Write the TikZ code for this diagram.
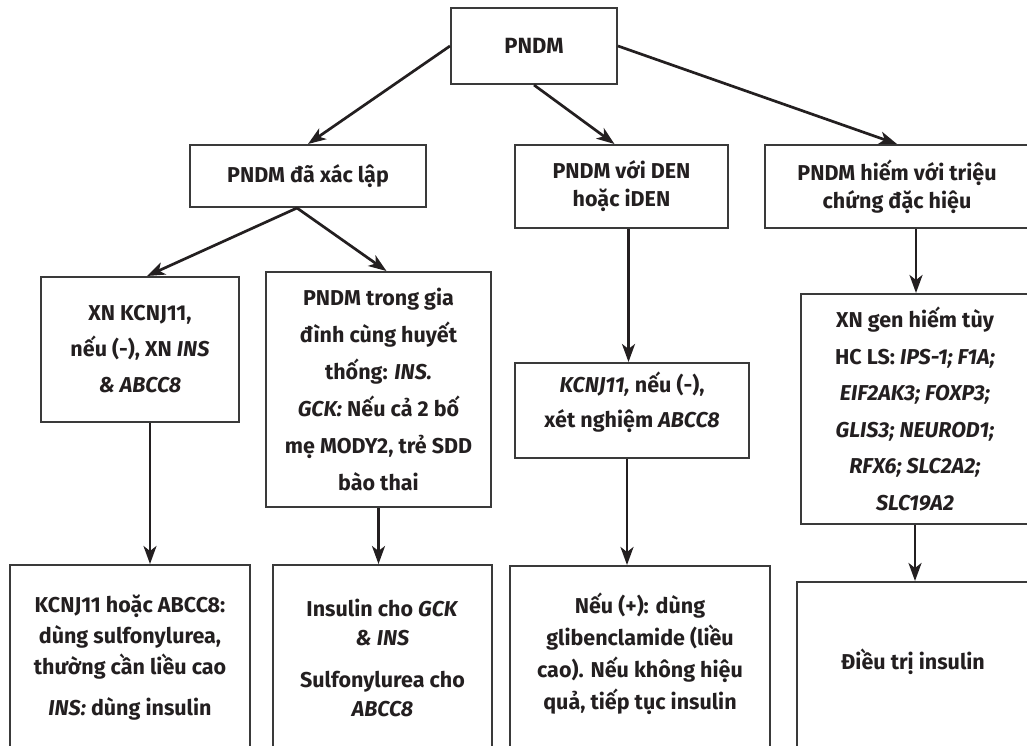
\documentclass[tikz,border=0pt]{standalone}
\usepackage{fontspec}
\setmainfont{Fira Sans}[UprightFont={Fira Sans Bold}, BoldFont={Fira Sans ExtraBold}, ItalicFont={Fira Sans Bold Italic}]
\usetikzlibrary{arrows.meta}
\definecolor{inchiostro}{HTML}{231F20}
\definecolor{bordo}{HTML}{3A3A3A}
\newcommand{\testo}[1]{\fontsize{21.5}{#1}\selectfont}
\tikzstyle{riquadro} = [rectangle, draw=bordo, line width=2pt, align=center, inner sep=0pt, text=inchiostro, font=\testo{28}]
\tikzstyle{freccia} = [draw=inchiostro, line width=2.7pt, -{Stealth[length=18pt,width=13pt,inset=5pt]}]

\begin{document}
\begin{tikzpicture}[x=1pt, y=-1pt]
\useasboundingbox (0,0) rectangle (1027,745);
\clip (0,0) rectangle (1027,745);

\node (pndm) [riquadro, minimum width=166, minimum height=76, font=\fontsize{22}{28}\selectfont] at (534,46) {PNDM};

\node (xaclap) [riquadro, minimum width=236, minimum height=62] at (308,176) {PNDM đã xác lập};
\node (den) [riquadro, minimum width=213, minimum height=83] at (621.5,186.5) {PNDM với DEN\\hoặc iDEN};
\node (hiem) [riquadro, minimum width=264, minimum height=83] at (897,186.5) {PNDM hiếm với triệu\\chứng đặc hiệu};

\node (xnk) [riquadro, minimum width=198, minimum height=145, font=\testo{36}] at (140,349.5) {XN KCNJ11,\\nếu (-), XN \textit{INS}\\\textit{\& ABCC8}};
\node (giadinh) [riquadro, minimum width=225, minimum height=235, font=\testo{37}] at (378.5,389.5) {PNDM trong gia\\đình cùng huyết\\thống: \textit{INS.}\\\textit{GCK:} Nếu cả 2 bố\\mẹ MODY2, trẻ SDD\\bào thai};
\node (kcnj) [riquadro, minimum width=234, minimum height=95, text depth=22pt, font=\testo{35}] at (632,410.5) {\textit{KCNJ11,} nếu (-),\\xét nghiệm \textit{ABCC8}};
\node (gen) [riquadro, minimum width=228, minimum height=230, font=\testo{36.5}] at (915,409) {XN gen hiếm tùy\\HC LS: \textit{IPS-1; F1A;}\\\textit{EIF2AK3; FOXP3;}\\\textit{GLIS3; NEUROD1;}\\\textit{RFX6; SLC2A2;}\\\textit{SLC19A2}};

\node (sulfo) [riquadro, minimum width=240, minimum height=186, font=\testo{31}] at (130,658) {KCNJ11 hoặc ABCC8:\\dùng sulfonylurea,\\thường cần liều cao\\[10pt]\textit{INS:} dùng insulin};
\node (insgck) [riquadro, minimum width=219, minimum height=185, font=\testo{29}] at (382.5,657.5) {Insulin cho \textit{GCK}\\\textit{\& INS}\\[13pt]Sulfonylurea cho\\\textit{ABCC8}};
\node (gliben) [riquadro, minimum width=260, minimum height=190, text depth=20pt, font=\testo{32}] at (640,661) {Nếu (+): dùng\\glibenclamide (liều\\cao). Nếu không hiệu\\quả, tiếp tục insulin};
\node (dieutri) [riquadro, minimum width=232, minimum height=170, text depth=15pt] at (913,667) {Điều trị insulin};

% rami dal nodo principale
\draw[freccia] (pndm.west) -- (xaclap.north);
\draw[freccia] (pndm.south) -- ([xshift=-7pt]den.north);
\draw[freccia] (pndm.east) -- (hiem.north);

\draw[freccia] ([xshift=-11pt]xaclap.south) -- ([xshift=7pt]xnk.north);
\draw[freccia] ([xshift=-11pt]xaclap.south) -- ([xshift=8pt]giadinh.north);

% colonne verticali
\coordinate (a1) at ([xshift=10pt]xnk.south);
\draw[freccia] (a1) -- (a1 |- sulfo.north);
\draw[freccia] (giadinh.south) -- (giadinh.south |- insgck.north);
\coordinate (a2) at ([xshift=7pt]den.south);
\draw[freccia] (a2) -- (a2 |- kcnj.north);
\coordinate (a3) at ([xshift=-5pt]kcnj.south);
\draw[freccia] (a3) -- (a3 |- gliben.north);
\coordinate (a4) at ([xshift=19pt]hiem.south);
\draw[freccia] (a4) -- (a4 |- gen.north);
\draw[freccia] (gen.south) -- (gen.south |- dieutri.north);

\end{tikzpicture}
\end{document}
